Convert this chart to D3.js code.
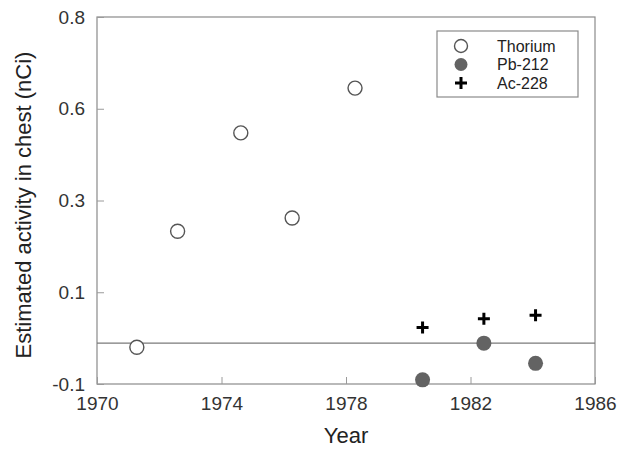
<!DOCTYPE html>
<html>
<head>
<meta charset="utf-8">
<script src="https://cdn.jsdelivr.net/npm/d3@7"></script>
<style>
  body { margin: 0; background: #fff; }
  svg { display: block; font-family: "Liberation Sans", Arial, sans-serif; }
</style>
</head>
<body>
<div id="chart"></div>
<script>
// data
const thoriumYears = [1971.28, 1972.59, 1974.62, 1976.27, 1978.29];
const thoriumValues = [-0.02, 0.233, 0.521, 0.262, 0.645];
const pbYears = [1980.46, 1982.43, 1984.09];
const pbValues = [-0.091, -0.011, -0.055];
const acYears = [1980.46, 1982.43, 1984.09];
const acValues = [0.023, 0.042, 0.050];
const xTicks = [1970, 1974, 1978, 1982, 1986];
const yTicks = [-0.1, 0.1, 0.3, 0.6, 0.8]; // labels are evenly spaced on the original axis
const refValue = -0.011;
const legendNames = ['Thorium', 'Pb-212', 'Ac-228'];

const WIDTH = 618;
const HEIGHT = 450;
const margin = { top: 17, right: 23, bottom: 66, left: 97 };
const w = WIDTH - margin.left - margin.right;
const h = HEIGHT - margin.top - margin.bottom;

const svg = d3.select('#chart')
  .append('svg')
  .attr('width', WIDTH)
  .attr('height', HEIGHT);

const g = svg.append('g')
  .attr('transform', `translate(${margin.left},${margin.top})`);

const x = d3.scaleLinear()
  .domain([xTicks[0], xTicks[xTicks.length - 1]])
  .range([0, w]);

// piecewise scale: each labelled value sits on an evenly spaced tick
const y = d3.scaleLinear()
  .domain(yTicks)
  .range(yTicks.map((d, i) => h - i * h / (yTicks.length - 1)));

// frame
g.append('rect')
  .attr('width', w)
  .attr('height', h)
  .attr('fill', 'none')
  .attr('stroke', '#8a8a8a')
  .attr('stroke-width', 1.2);

// x axis with inward ticks
const xAxis = g.append('g')
  .attr('transform', `translate(0,${h})`)
  .call(d3.axisBottom(x).tickValues(xTicks).tickFormat(d3.format('d')).tickSize(-7).tickPadding(13));
xAxis.select('.domain').remove();
xAxis.selectAll('line').attr('stroke', '#9a9a9a');
xAxis.selectAll('text')
  .attr('fill', '#333')
  .style('font-size', '19px');

// y axis with inward ticks, plain hyphen for the minus sign as in the original
const yAxis = g.append('g')
  .call(d3.axisLeft(y).tickValues(yTicks).tickFormat(d => d.toFixed(1)).tickSize(-7).tickPadding(12));
yAxis.select('.domain').remove();
yAxis.selectAll('line').attr('stroke', '#9a9a9a');
yAxis.selectAll('text')
  .attr('fill', '#333')
  .style('font-size', '19px');

// axis titles
svg.append('text')
  .attr('x', margin.left + w / 2)
  .attr('y', 443)
  .attr('text-anchor', 'middle')
  .attr('fill', '#222')
  .style('font-size', '22px')
  .text('Year');

svg.append('text')
  .attr('transform', `translate(31,${margin.top + 188}) rotate(-90)`)
  .attr('text-anchor', 'middle')
  .attr('fill', '#222')
  .style('font-size', '22px')
  .text('Estimated activity in chest (nCi)');

// reference line
g.append('line')
  .attr('x1', 0)
  .attr('x2', w)
  .attr('y1', y(refValue))
  .attr('y2', y(refValue))
  .attr('stroke', '#7a7a7a')
  .attr('stroke-width', 1.2);

// Thorium: open circles
g.selectAll('.thorium')
  .data(thoriumYears.map((d, i) => [d, thoriumValues[i]]))
  .enter()
  .append('circle')
  .attr('class', 'thorium')
  .attr('cx', d => x(d[0]))
  .attr('cy', d => y(d[1]))
  .attr('r', 7)
  .attr('fill', '#fff')
  .attr('stroke', '#555')
  .attr('stroke-width', 1.4);

// Pb-212: filled circles
g.selectAll('.pb')
  .data(pbYears.map((d, i) => [d, pbValues[i]]))
  .enter()
  .append('circle')
  .attr('class', 'pb')
  .attr('cx', d => x(d[0]))
  .attr('cy', d => y(d[1]))
  .attr('r', 7.5)
  .attr('fill', '#636363');

// Ac-228: crosses
const crossPath = 'M-6,0H6M0,-6V6';
g.selectAll('.ac')
  .data(acYears.map((d, i) => [d, acValues[i]]))
  .enter()
  .append('path')
  .attr('class', 'ac')
  .attr('transform', d => `translate(${x(d[0])},${y(d[1])})`)
  .attr('d', crossPath)
  .attr('stroke', '#000')
  .attr('stroke-width', 3)
  .attr('fill', 'none');

// legend
const legend = svg.append('g')
  .attr('transform', 'translate(437,31)');

legend.append('rect')
  .attr('width', 141)
  .attr('height', 66)
  .attr('fill', '#fff')
  .attr('stroke', '#8a8a8a')
  .attr('stroke-width', 1.2);

const rows = legend.selectAll('.row')
  .data(legendNames)
  .enter()
  .append('g')
  .attr('class', 'row')
  .attr('transform', (d, i) => `translate(0,${15 + i * 18.5})`);

rows.append('text')
  .attr('x', 60)
  .attr('dy', '0.35em')
  .attr('fill', '#222')
  .style('font-size', '16px')
  .text(d => d);

rows.filter((d, i) => i === 0)
  .append('circle')
  .attr('cx', 24)
  .attr('r', 6.5)
  .attr('fill', '#fff')
  .attr('stroke', '#555')
  .attr('stroke-width', 1.4);

rows.filter((d, i) => i === 1)
  .append('circle')
  .attr('cx', 24)
  .attr('r', 6.5)
  .attr('fill', '#636363');

rows.filter((d, i) => i === 2)
  .append('path')
  .attr('transform', 'translate(24,0)')
  .attr('d', crossPath)
  .attr('stroke', '#000')
  .attr('stroke-width', 3)
  .attr('fill', 'none');
</script>
</body>
</html>
